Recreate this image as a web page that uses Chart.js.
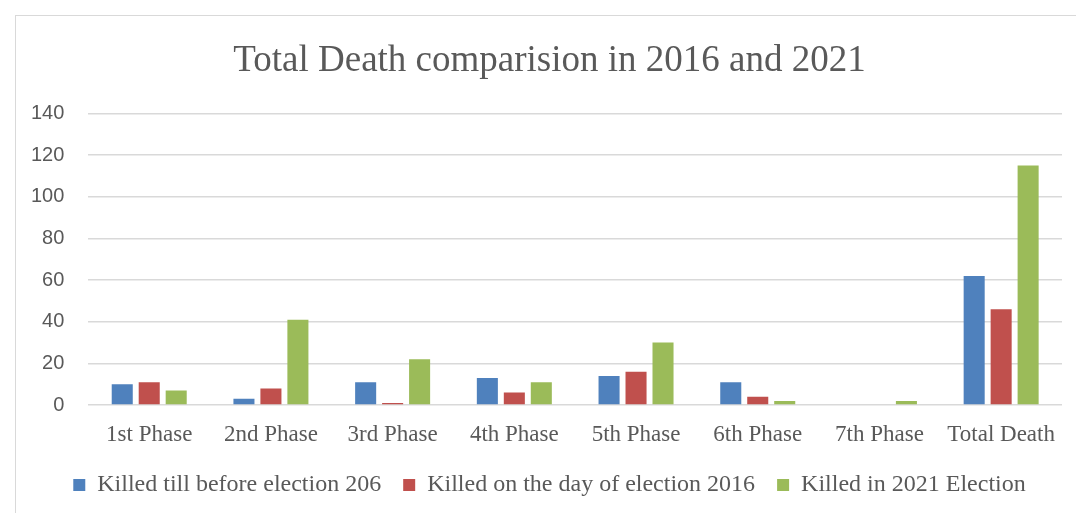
<!DOCTYPE html>
<html>
<head>
<meta charset="utf-8">
<script src="https://cdn.jsdelivr.net/npm/chart.js@4/dist/chart.umd.min.js"></script>
<style>
  html, body { margin: 0; padding: 0; background: #fff; overflow: hidden; }
  #frame { position: absolute; left: 15px; top: 15px; width: 1100px; height: 600px; border: 1px solid #d9d9d9; }
  #wrap { position: absolute; left: 0; top: 0; width: 1076px; height: 513px; }
</style>
</head>
<body>
<div id="frame"></div>
<div id="wrap"><canvas id="deaths"></canvas></div>
<script>
// Catégories et séries
const phases = ['1st Phase', '2nd Phase', '3rd Phase', '4th Phase', '5th Phase', '6th Phase', '7th Phase', 'Total Death'];
const killedBefore2016 = [10, 3, 11, 13, 14, 11, 0, 62];
const killedOnDay2016 = [11, 8, 1, 6, 16, 4, 0, 46];
const killed2021 = [7, 41, 22, 11, 30, 2, 2, 115];
const seriesNames = ['Killed till before election 206', 'Killed on the day of election 2016', 'Killed in 2021 Election'];
const yTicks = [0, 20, 40, 60, 80, 100, 120, 140];

const colors = {
  blue: '#4f81bd',
  red: '#c0504d',
  green: '#9bbb59',
  text: '#595959',
  grid: '#d9d9d9'
};

const serif = '"Liberation Serif", "Times New Roman", serif';
const sans = '"Liberation Sans", Arial, sans-serif';

const makeSet = (label, data, color) => ({
  label,
  data,
  backgroundColor: color,
  borderWidth: 0,
  categoryPercentage: 0.665,
  barPercentage: 0.78
});

// Le titre et la légende sont centrés sur le cadre, un peu à droite du canvas ;
// la légende remonte légèrement vers l'axe
const headerShift = {
  id: 'headerShift',
  afterLayout(chart, args, opts) {
    [chart.titleBlock, chart.legend].forEach(box => {
      if (!box) return;
      box.left += opts.dx;
      box.right += opts.dx;
    });
    if (chart.legend) {
      chart.legend.top += opts.legendDy;
      chart.legend.bottom += opts.legendDy;
    }
  }
};

new Chart(document.getElementById('deaths'), {
  type: 'bar',
  data: {
    labels: phases,
    datasets: [
      makeSet(seriesNames[0], killedBefore2016, colors.blue),
      makeSet(seriesNames[1], killedOnDay2016, colors.red),
      makeSet(seriesNames[2], killed2021, colors.green)
    ]
  },
  plugins: [headerShift],
  options: {
    responsive: true,
    maintainAspectRatio: false,
    animation: false,
    layout: { padding: { left: 7, right: 14, top: 39, bottom: 0 } },
    plugins: {
      headerShift: { dx: 15, legendDy: -6 },
      title: {
        display: true,
        text: 'Total Death comparision in 2016 and 2021',
        color: colors.text,
        font: { family: serif, size: 37, weight: 'normal' },
        padding: { top: 0, bottom: 30 }
      },
      legend: {
        position: 'bottom',
        labels: {
          color: colors.text,
          font: { family: serif, size: 24 },
          boxWidth: 12,
          boxHeight: 12,
          padding: 22
        }
      },
      tooltip: { enabled: false }
    },
    scales: {
      x: {
        grid: { display: false },
        border: { display: false },
        ticks: { color: colors.text, font: { family: serif, size: 23, lineHeight: 1.65 }, padding: 3 }
      },
      y: {
        min: 0,
        max: 140,
        afterBuildTicks: (axis) => { axis.ticks = yTicks.map(v => ({ value: v })); },
        grid: { color: colors.grid, lineWidth: 1.5, drawTicks: false },
        border: { display: false },
        ticks: { color: colors.text, font: { family: sans, size: 20 }, padding: 24 }
      }
    }
  }
});
</script>
</body>
</html>
